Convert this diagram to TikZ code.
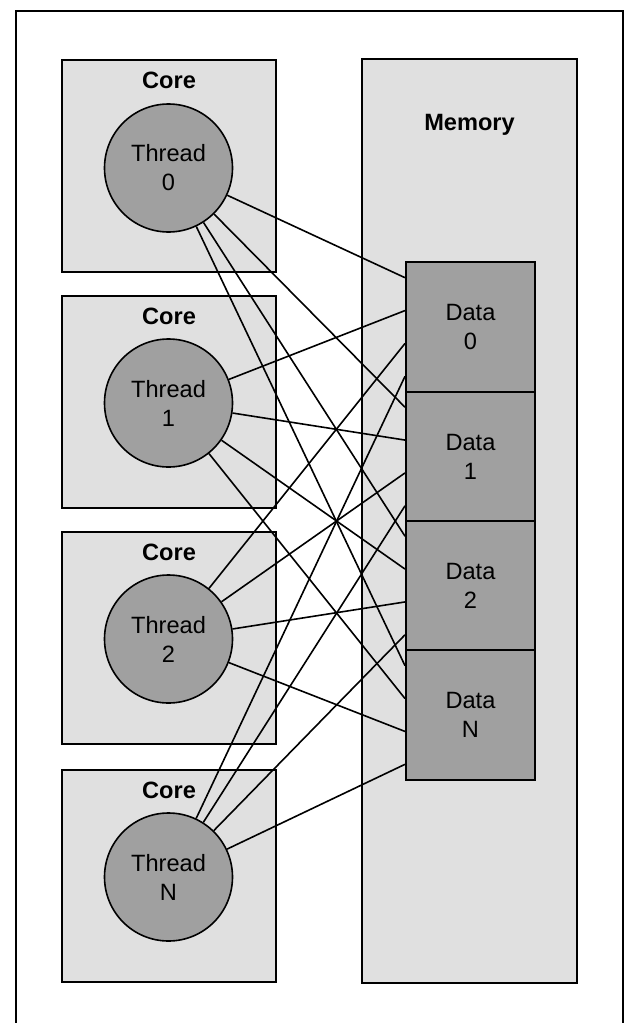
\documentclass[tikz,border=0pt]{standalone}
\usepackage{fontspec}
\setmainfont{Liberation Sans}
\usetikzlibrary{calc}

\definecolor{lightfill}{HTML}{E0E0E0}
\definecolor{darkfill}{HTML}{A0A0A0}

\tikzset{
  corebox/.style={draw,line width=1pt,fill=lightfill,minimum width=107pt,minimum height=106pt,inner sep=0pt},
  membox/.style={draw,line width=1pt,fill=lightfill,minimum width=107.5pt,minimum height=462pt,inner sep=0pt},
  thread/.style={draw,circle,line width=0.8pt,fill=darkfill,minimum size=64pt,inner sep=0pt,align=center,font=\fontsize{11.8}{14.5}\selectfont},
  datbox/.style={draw,line width=1pt,fill=darkfill,minimum width=64.5pt,minimum height=64.75pt,inner sep=0pt,align=center,font=\fontsize{11.8}{14.5}\selectfont},
  title/.style={font=\bfseries\fontsize{11.8}{14.5}\selectfont},
  link/.style={line width=0.8pt}
}

\begin{document}
\begin{tikzpicture}[x=0.5pt,y=-0.5pt]
\useasboundingbox (0,0) rectangle (625,1023);
% outer frame, runs off the bottom of the page
\draw[line width=1pt] (16,10.5) rectangle (623,1040);

% memory and its blocks
\node[membox] (mem) at (469.5,521) {};
\node[title] (memlbl) at (469.5,125) {Memory};
\node[datbox] (d0) at (470.5,327) {Data\\0};
\node[datbox] (d1) at (470.5,456.5) {Data\\1};
\node[datbox] (d2) at (470.5,585.5) {Data\\2};
\node[datbox] (dN) at (470.5,715) {Data\\N};

% cores with one thread each
\node[corebox] (c0) at (169,166) {};
\node[title] (c0lbl) at (169,80) {Core};
\node[thread] (t0) at (168.5,168) {Thread\\0};

\node[corebox] (c1) at (169,402) {};
\node[title] (c1lbl) at (169,316) {Core};
\node[thread] (t1) at (168.5,403) {Thread\\1};

\node[corebox] (c2) at (169,638) {};
\node[title] (c2lbl) at (169,552) {Core};
\node[thread] (t2) at (168.5,639) {Thread\\2};

\node[corebox] (cN) at (169,876) {};
\node[title] (cNlbl) at (169,790) {Core};
\node[thread] (tN) at (168.5,877) {Thread\\N};

% every thread reaches every data block
\draw[link] (t0) -- ($(d0.north west)!0.125!(d0.south west)$);
\draw[link] (t0) -- ($(d1.north west)!0.125!(d1.south west)$);
\draw[link] (t0) -- ($(d2.north west)!0.125!(d2.south west)$);
\draw[link] (t0) -- ($(dN.north west)!0.125!(dN.south west)$);

\draw[link] (t1) -- ($(d0.north west)!0.375!(d0.south west)$);
\draw[link] (t1) -- ($(d1.north west)!0.375!(d1.south west)$);
\draw[link] (t1) -- ($(d2.north west)!0.375!(d2.south west)$);
\draw[link] (t1) -- ($(dN.north west)!0.375!(dN.south west)$);

\draw[link] (t2) -- ($(d0.north west)!0.625!(d0.south west)$);
\draw[link] (t2) -- ($(d1.north west)!0.625!(d1.south west)$);
\draw[link] (t2) -- ($(d2.north west)!0.625!(d2.south west)$);
\draw[link] (t2) -- ($(dN.north west)!0.625!(dN.south west)$);

\draw[link] (tN) -- ($(d0.north west)!0.875!(d0.south west)$);
\draw[link] (tN) -- ($(d1.north west)!0.875!(d1.south west)$);
\draw[link] (tN) -- ($(d2.north west)!0.875!(d2.south west)$);
\draw[link] (tN) -- ($(dN.north west)!0.875!(dN.south west)$);
\end{tikzpicture}
\end{document}
